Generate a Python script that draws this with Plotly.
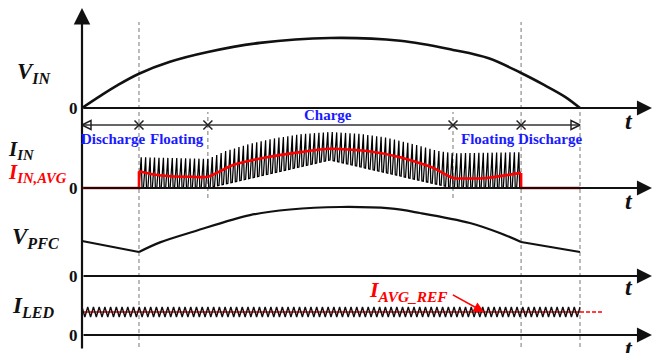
import numpy as np
import plotly.graph_objects as go

# ---- time base: electrical degrees of one rectified half line cycle ----
T_DIS_END = 20.6      # end of first discharge interval
T_FLT_END = 45.5      # end of first floating interval
T_CHG_END = 134.1     # end of charge interval
T_FLT2_END = 158.7    # end of second floating interval
T_HALF = 180.0

# ---- input voltage |v_in| (normalised to its peak) ----
vin_t = [0, 6.5, 12.6, 20.6, 31.8, 45.5, 64.3, 89.6, 115, 134.1, 147, 158.7, 167, 174.6, 180]
vin_v = [0, 0.17, 0.32, 0.49, 0.66, 0.80, 0.93, 1.00, 0.96, 0.83, 0.71, 0.50, 0.33, 0.16, 0]

# ---- input current: switching-ripple envelopes and its average ----
iin_up_t = [20.6, 45.5, 52, 60.7, 70, 78.8, 89.6, 100, 110, 120, 128, 134.1, 158.7]
iin_up_v = [0.55, 0.52, 0.66, 0.79, 0.89, 0.96, 1.00, 0.97, 0.90, 0.78, 0.67, 0.62, 0.64]
iin_lo_t = [20.6, 45.5, 89.6, 134.1, 158.7]
iin_lo_v = [0.0, 0.0, 0.50, 0.0, 0.0]
N_SW_PULSES = 86

iavg_t = [20.6, 26, 32, 40, 45.5, 54.6, 66.9, 78.8, 89.6, 103, 115, 126.9, 134.1, 140, 146.4, 158.7]
iavg_v = [0.30, 0.24, 0.21, 0.20, 0.20, 0.41, 0.55, 0.64, 0.70, 0.66, 0.55, 0.36, 0.18, 0.17, 0.18, 0.27]

# ---- PFC bus voltage ----
vpfc_dis_t = [0, 20.6]
vpfc_dis_v = [0.50, 0.343]
vpfc_mid_t = [20.6, 28.2, 40.8, 60.7, 75.2, 93.2, 111.3, 122.2, 140.2, 151, 158.7]
vpfc_mid_v = [0.343, 0.48, 0.64, 0.87, 0.95, 0.986, 0.965, 0.90, 0.757, 0.614, 0.486]
vpfc_end_t = [158.7, 180]
vpfc_end_v = [0.486, 0.343]

# ---- LED current: regulated average with triangular ripple ----
ILED_AVG = 1.0
ILED_RIPPLE = 0.22
N_LED_CYCLES = 87
IREF_DASH_END = 188.3

BLACK = "#111111"
RED = "#ff0000"
BLUE = "#1a1aff"
GRAY = "#777777"
SERIF = "Liberation Serif"

W, H = 668, 353


def px(xp):
    return xp / W


def py(yp):
    return 1 - yp / H


# switching pulses of the input current: ramp up, fast turn-off, idle gap
edges = np.linspace(T_DIS_END, T_FLT2_END, N_SW_PULSES + 1)
iin_x, iin_y = [0.0, T_DIS_END], [0.0, 0.0]
for a, b in zip(edges[:-1], edges[1:]):
    p = b - a
    for frac, env in ((0.0, "lo"), (0.5, "up"), (0.68, "lo")):
        tt = a + frac * p
        if env == "up":
            iin_y.append(float(np.interp(tt, iin_up_t, iin_up_v)))
        else:
            iin_y.append(float(np.interp(tt, iin_lo_t, iin_lo_v)))
        iin_x.append(tt)
iin_x += [T_FLT2_END, T_HALF]
iin_y += [0.0, 0.0]

# LED current ripple vertices
led_x = np.linspace(0, T_HALF, 2 * N_LED_CYCLES + 1)
led_y = [ILED_AVG + (ILED_RIPPLE if k % 2 == 0 else -ILED_RIPPLE) for k in range(len(led_x))]

fig = go.Figure()

# V_IN
fig.add_trace(go.Scatter(x=vin_t, y=vin_v, mode="lines", yaxis="y",
                         line=dict(color=BLACK, width=2.6, shape="spline", smoothing=1.0)))

# I_IN switching current
fig.add_trace(go.Scatter(x=iin_x, y=iin_y, mode="lines", yaxis="y2",
                         line=dict(color="#000000", width=1.25)))
# I_IN average
fig.add_trace(go.Scatter(x=[0, T_DIS_END, T_DIS_END, None, T_FLT2_END, T_FLT2_END, T_HALF],
                         y=[0, 0, iavg_v[0], None, iavg_v[-1], 0, 0], mode="lines", yaxis="y2",
                         line=dict(color=RED, width=2.6)))
fig.add_trace(go.Scatter(x=iavg_t, y=iavg_v, mode="lines", yaxis="y2",
                         line=dict(color=RED, width=2.6, shape="spline", smoothing=0.6)))

# phase markers line
PHASE_Y = 1.125
fig.add_trace(go.Scatter(
    x=[0, T_DIS_END, T_FLT_END, T_CHG_END, T_FLT2_END, T_HALF],
    y=[PHASE_Y] * 6, mode="lines+markers", yaxis="y2",
    line=dict(color="#333333", width=1.4),
    marker=dict(symbol=["arrow-left-open", "x-thin", "x-thin", "x-thin", "x-thin", "arrow-right-open"],
                size=9, color="#222222", line=dict(color="#222222", width=1.5))))

# V_PFC
fig.add_trace(go.Scatter(x=vpfc_dis_t + [None] + vpfc_end_t, y=vpfc_dis_v + [None] + vpfc_end_v,
                         mode="lines", yaxis="y3", line=dict(color=BLACK, width=2.2)))
fig.add_trace(go.Scatter(x=vpfc_mid_t, y=vpfc_mid_v, mode="lines", yaxis="y3",
                         line=dict(color=BLACK, width=2.2, shape="spline", smoothing=1.0)))

# I_LED with its reference
fig.add_trace(go.Scatter(x=[0, T_HALF], y=[ILED_AVG, ILED_AVG], mode="lines", yaxis="y4",
                         line=dict(color=RED, width=1.6)))
fig.add_trace(go.Scatter(x=[T_HALF, IREF_DASH_END], y=[ILED_AVG, ILED_AVG], mode="lines", yaxis="y4",
                         line=dict(color=RED, width=1.6, dash="4px,2px")))
fig.add_trace(go.Scatter(x=led_x, y=led_y, mode="lines", yaxis="y4",
                         line=dict(color=BLACK, width=1.4)))

# dashed phase boundaries: (time, top px, bottom px)
bounds = [(T_DIS_END, 22, 347), (T_FLT2_END, 22, 347), (T_HALF, 108, 347),
          (T_FLT_END, 112, 198), (T_CHG_END, 112, 198)]
for tb, top, bot in bounds:
    fig.add_shape(type="line", xref="x", yref="paper", x0=tb, x1=tb, y0=py(bot), y1=py(top),
                  line=dict(color=GRAY, width=1, dash="4px,3px"), layer="below")

ann = []
# vertical axis
ann.append(dict(xref="x", yref="paper", x=0, y=py(8), axref="pixel", ayref="pixel", ax=0, ay=342,
                text="", showarrow=True, arrowhead=2, arrowsize=1.5, arrowwidth=2.2,
                arrowcolor=BLACK, standoff=0))
# horizontal time axes of every panel
T_AXIS_END = 206.0
for yr in ("y", "y2", "y3", "y4"):
    ann.append(dict(xref="x", yref=yr, x=T_AXIS_END, y=0, axref="x", ayref=yr, ax=0, ay=0,
                    text="", showarrow=True, arrowhead=2, arrowsize=1.5, arrowwidth=2,
                    arrowcolor=BLACK, standoff=0))

# panel zero labels and time labels
for zero_px, t_px in ((108, 121), (188, 201), (276, 287), (335, 348)):
    ann.append(dict(xref="paper", yref="paper", x=px(80), y=py(zero_px), text="<b>0</b>",
                    showarrow=False, xanchor="right", yanchor="middle",
                    font=dict(family=SERIF, size=17, color=BLACK)))
    ann.append(dict(xref="paper", yref="paper", x=px(629), y=py(t_px), text="<b><i>t</i></b>",
                    showarrow=False, xanchor="center", yanchor="middle",
                    font=dict(family=SERIF, size=24, color=BLACK)))

# signal names
names = [("<b><i>V<sub>IN</sub></i></b>", 15, 73, BLACK, 23),
         ("<b><i>I<sub>IN</sub></i></b>", 6, 150, BLACK, 21),
         ("<b><i>I<sub>IN,AVG</sub></i></b>", 6, 173, RED, 21),
         ("<b><i>V<sub>PFC</sub></i></b>", 10, 238, BLACK, 23),
         ("<b><i>I<sub>LED</sub></i></b>", 10, 307, BLACK, 23)]
for txt, xl, yc, col, fs in names:
    ann.append(dict(xref="paper", yref="paper", x=px(xl), y=py(yc), text=txt, showarrow=False,
                    xanchor="left", yanchor="middle", font=dict(family=SERIF, size=fs, color=col)))

# operating intervals
phases = [("Discharge", 11.2, 0.875), ("Floating", 34.3, 0.875), ("Charge", 88.9, 1.30),
          ("Floating", 146.7, 0.875), ("Discharge", 169.1, 0.875)]
for txt, tx, ty in phases:
    ann.append(dict(xref="x", yref="y2", x=tx, y=ty, text="<b>%s</b>" % txt, showarrow=False,
                    xanchor="center", yanchor="middle", font=dict(family=SERIF, size=15, color=BLUE)))

# I_AVG_REF label and pointer
ann.append(dict(xref="x", yref="y4", x=133.0, y=1.92, text="<b><i>I<sub>AVG_REF</sub></i></b>",
                showarrow=False, xanchor="right", yanchor="middle",
                font=dict(family=SERIF, size=22, color=RED)))
ann.append(dict(xref="x", yref="y4", x=145.3, y=ILED_AVG, axref="x", ayref="y4", ax=133.5, ay=1.78,
                text="", showarrow=True, arrowhead=2, arrowsize=1.3, arrowwidth=1.6,
                arrowcolor=RED, standoff=0))

X_RANGE = [-82 / 2.7667, (W - 82) / 2.7667]


def yr(zero_px, px_per_unit):
    return [-(H - zero_px) / px_per_unit, zero_px / px_per_unit]


hidden = dict(visible=False, fixedrange=True, domain=[0, 1])
fig.update_layout(
    width=W, height=H, margin=dict(l=0, r=0, t=0, b=0),
    paper_bgcolor="white", plot_bgcolor="white", showlegend=False,
    xaxis=dict(range=X_RANGE, visible=False, fixedrange=True, domain=[0, 1]),
    yaxis=dict(range=yr(108, 70), **hidden),
    yaxis2=dict(range=yr(188, 56), overlaying="y", **hidden),
    yaxis3=dict(range=yr(276, 70), overlaying="y", **hidden),
    yaxis4=dict(range=yr(335, 23), overlaying="y", **hidden),
    annotations=ann,
)

fig.write_html("out.html")
